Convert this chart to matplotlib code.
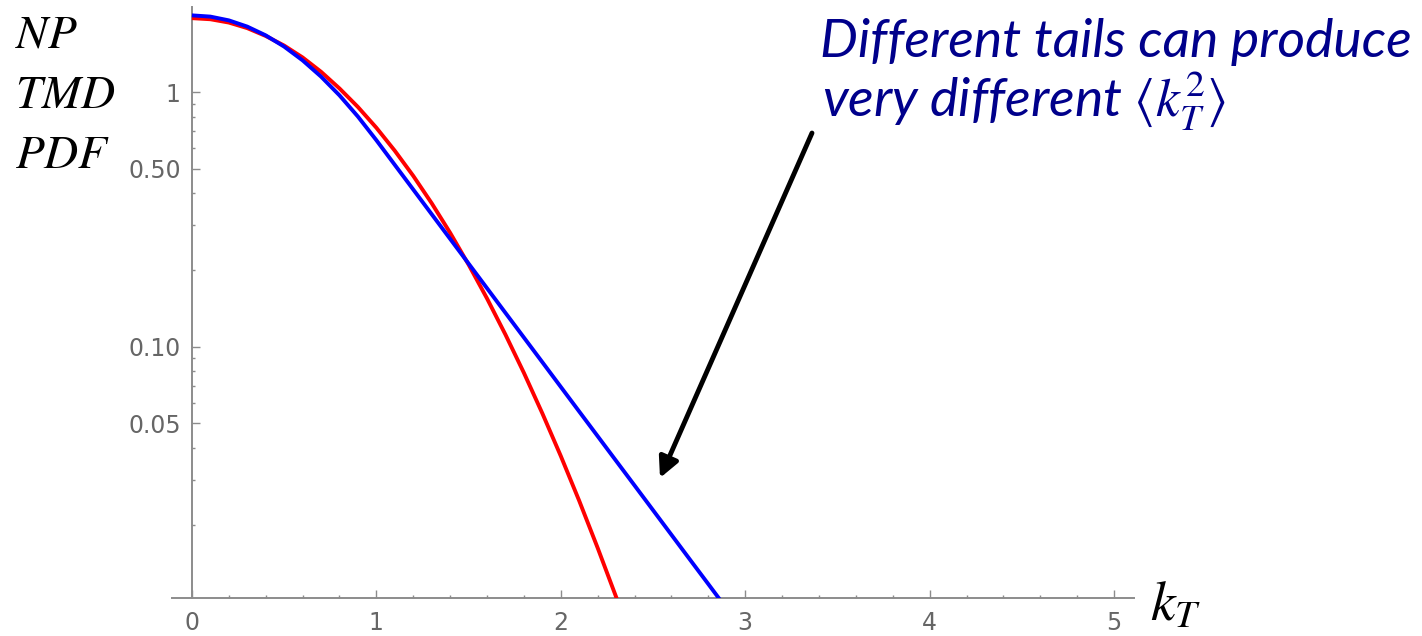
import matplotlib
matplotlib.use("Agg")
import matplotlib.pyplot as plt
from matplotlib.ticker import FixedLocator, FixedFormatter, MultipleLocator, LogLocator, NullFormatter

plt.rcParams['mathtext.fontset'] = 'stix'

# transverse momentum grid and the two non-perturbative TMD PDF models
kT = [0.0, 0.1, 0.2, 0.3, 0.4, 0.5, 0.6, 0.7, 0.8, 0.9,
      1.0, 1.1, 1.2, 1.3, 1.4, 1.5, 1.6, 1.7, 1.8, 1.9,
      2.0, 2.1, 2.2, 2.3, 2.4, 2.5, 2.6, 2.7, 2.8, 2.9]
gauss_tail = [1.950, 1.931, 1.874, 1.782, 1.660, 1.522, 1.367, 1.201, 1.033, 0.8735,
              0.7240, 0.5879, 0.4685, 0.3658, 0.2800, 0.2100, 0.1546, 0.1115, 0.0789, 0.0547,
              0.0372, 0.0248, 0.0162, 0.0104, 0.0065, 0.0040, 0.0024, 0.0014, 0.0008, 0.0005]
exp_tail = [2.000, 1.9775, 1.9116, 1.8067, 1.6692, 1.5078, 1.3315, 1.1496, 0.9704, 0.8009,
            0.6468, 0.5174, 0.4140, 0.3312, 0.2650, 0.2120, 0.1696, 0.1357, 0.1086, 0.0869,
            0.0695, 0.0556, 0.0445, 0.0356, 0.0285, 0.0228, 0.01824, 0.01459, 0.01168, 0.00934]

y_ticks = [0.05, 0.1, 0.5, 1]
y_ticklabels = ['0.05', '0.10', '0.50', '1']
x_ticks = [0, 1, 2, 3, 4, 5]

axis_grey = '#8c8c8c'
label_grey = '#666666'

fig = plt.figure(figsize=(14.22, 6.36), dpi=100)
ax = fig.add_axes([172 / 1422, 38 / 636, 962 / 1422, 591 / 636])

ax.plot(kT, gauss_tail, color='#ff0000', lw=2.8, solid_capstyle='butt', zorder=3)
ax.plot(kT, exp_tail, color='#0000ff', lw=2.8, solid_capstyle='butt', zorder=4)

ax.set_yscale('log')
ax.set_xlim(-0.108, 5.108)
ax.set_ylim(0.0103, 2.157)

# axes cross at kT = 0, like a Mathematica plot
ax.spines['left'].set_position(('data', 0))
ax.spines['top'].set_visible(False)
ax.spines['right'].set_visible(False)
for s in ('left', 'bottom'):
    ax.spines[s].set_color(axis_grey)
    ax.spines[s].set_linewidth(1.4)

ax.yaxis.set_major_locator(FixedLocator(y_ticks))
ax.yaxis.set_major_formatter(FixedFormatter(y_ticklabels))
ax.yaxis.set_minor_locator(LogLocator(base=10, subs=[2, 3, 4, 6, 7, 8, 9], numticks=20))
ax.yaxis.set_minor_formatter(NullFormatter())
ax.xaxis.set_major_locator(FixedLocator(x_ticks))
ax.xaxis.set_minor_locator(MultipleLocator(0.2))

ax.tick_params(which='major', direction='in', length=5.5, width=1.0, color=axis_grey,
               labelcolor=label_grey, labelsize=17)
ax.tick_params(which='minor', direction='in', length=2.5, width=1.0, color=axis_grey)
ax.tick_params(axis='y', which='major', pad=8)
ax.tick_params(axis='x', which='major', pad=9)
for lab in ax.get_xticklabels() + ax.get_yticklabels():
    lab.set_family('DejaVu Sans')

# axis titles
fig.text(15 / 1422, 1 - 48 / 636, '$NP$', fontsize=34, color='black', va='baseline')
fig.text(15 / 1422, 1 - 108 / 636, '$TMD$', fontsize=34, color='black', va='baseline')
fig.text(15 / 1422, 1 - 168 / 636, '$PDF$', fontsize=34, color='black', va='baseline')
fig.text(1150 / 1422, 1 - 620 / 636, '$k_T$', fontsize=40, color='black', va='baseline')

# comment about the tails
note_color = '#00008b'
fig.text(820 / 1422, 1 - 57 / 636, 'Different tails can produce', fontsize=38.5,
         family='Lato', style='italic', color=note_color, va='baseline')
fig.text(822 / 1422, 1 - 117 / 636, r'very different $\langle k_T^2\rangle$', fontsize=38.5,
         family='Lato', style='italic', color=note_color, va='baseline')

ax.annotate('', xy=(2.538, 0.0305), xytext=(3.362, 0.69),
            arrowprops=dict(arrowstyle='-|>', lw=3.5, color='black',
                            mutation_scale=30, shrinkA=0, shrinkB=0))

fig.savefig('out.png', dpi=100)
